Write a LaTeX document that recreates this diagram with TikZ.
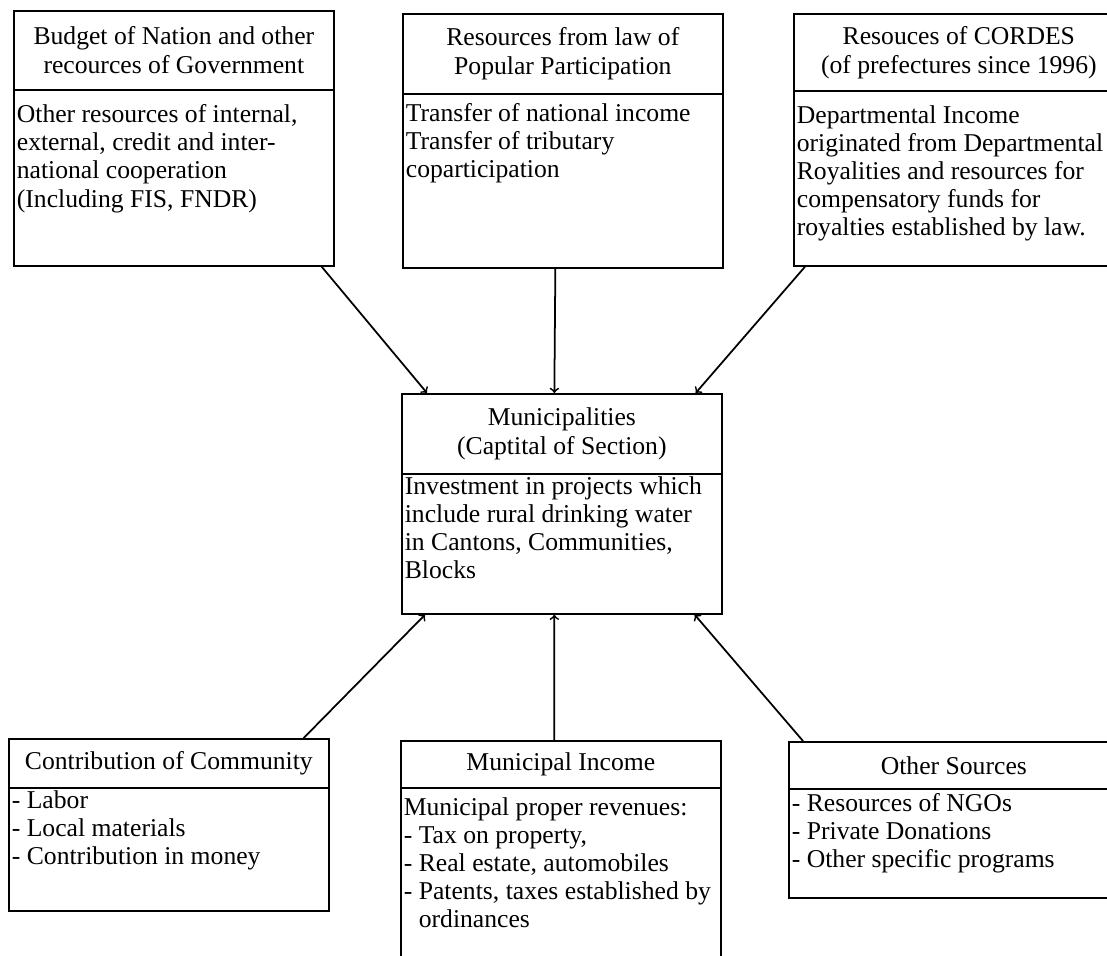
\documentclass[tikz,border=0pt]{standalone}
\usepackage{fontspec}
\setmainfont{Liberation Serif}
\usetikzlibrary{calc}

\tikzset{
  head/.style={draw, line width=1pt, anchor=north west, minimum width=6.4cm, align=center, inner sep=1pt, font=\fontsize{14.6}{16.6}\selectfont},
  body/.style={draw, line width=1pt, anchor=north west, minimum width=6.4cm},
  txt/.style={anchor=north west, align=left, inner xsep=2pt, inner ysep=3pt, font=\fontsize{14.6}{16}\selectfont},
  flow/.style={->, line width=1pt}
}

\begin{document}
\begin{tikzpicture}[x=0.02cm, y=-0.02cm, >=to]
\useasboundingbox (0,0) rectangle (1107,956);
\clip (0,0) rectangle (1107,956);
% sources on top
\node[head, minimum height=1.58cm] (budgetT) at (13,10) {Budget of Nation and other\\recources of Government};
\node[body, minimum height=3.52cm] (budgetB) at (13,89) {};
\node[txt, yshift=-0.2cm] (budgetL) at (budgetB.north west) {Other resources of internal,\\external, credit and inter-\\national cooperation\\(Including FIS, FNDR)};
\node[head, minimum height=1.6cm] (popT) at (402,13) {Resources from law of\\Popular Participation};
\node[body, minimum height=3.48cm] (popB) at (402,93) {};
\node[txt, yshift=-0.1cm] (popL) at (popB.north west) {Transfer of national income\\Transfer of tributary\\coparticipation};
\node[head, minimum height=1.54cm, minimum width=6.6cm] (cordT) at (793,13) {Resouces of CORDES\\(of prefectures since 1996)};
\node[body, minimum height=3.5cm, minimum width=6.6cm] (cordB) at (793,90) {};
\node[txt, yshift=-0.2cm] (cordL) at (cordB.north west) {Departmental Income\\originated from Departmental\\Royalities and resources for\\compensatory funds for\\royalties established by law.};
% municipalities
\node[head, minimum height=1.6cm] (munT) at (401,393) {Municipalities\\(Captital of Section)};
\node[body, minimum height=2.8cm] (munB) at (401,473) {};
\node[txt, yshift=0.04cm] (munL) at (munB.north west) {Investment in projects which\\include rural drinking water\\in Cantons, Communities,\\Blocks};
% sources below
\node[head, minimum height=0.98cm] (commT) at (8,738) {Contribution of Community};
\node[body, minimum height=2.46cm] (commB) at (8,787) {};
\node[txt, yshift=0.04cm] (commL) at (commB.north west) {- Labor\\- Local materials\\- Contribution in money};
\node[head, minimum height=0.94cm] (incT) at (400,740) {Municipal Income};
\node[body, minimum height=3.8cm] (incB) at (400,787) {};
\node[txt, yshift=-0.1cm] (incL) at (incB.north west) {Municipal proper revenues:\\- Tax on property,\\- Real estate, automobiles\\- Patents, taxes established by\\\phantom{-} ordinances};
\node[head, minimum height=0.94cm, minimum width=6.6cm] (othT) at (788,741) {Other Sources};
\node[body, minimum height=2.18cm, minimum width=6.6cm] (othB) at (788,788) {};
\node[txt] (othL) at (othB.north west) {- Resources of NGOs\\- Private Donations\\- Other specific programs};
% flows
\draw[flow] ([xshift=-0.26cm]budgetB.south east) -- ([xshift=0.52cm]munT.north west);
\draw[flow] ([xshift=-0.15cm]popB.south) -- ([xshift=-0.15cm]munT.north);
\draw[flow] ([xshift=0.24cm]cordB.south west) -- ([xshift=-0.54cm]munT.north east);
\draw[flow] ([xshift=-0.52cm]commT.north east) -- ([xshift=0.48cm]munB.south west);
\draw[flow] ([xshift=-0.13cm]incT.north) -- ([xshift=-0.15cm]munB.south);
\draw[flow] ([xshift=0.3cm]othT.north west) -- ([xshift=-0.56cm]munB.south east);
\end{tikzpicture}
\end{document}
